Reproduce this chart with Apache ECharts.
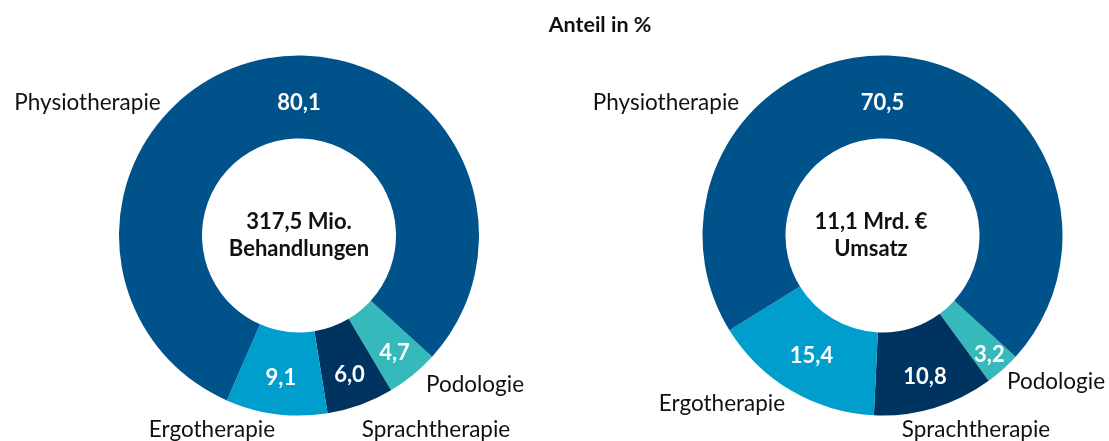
<!DOCTYPE html>
<html>
<head>
<meta charset="utf-8">
<script src="https://cdn.jsdelivr.net/npm/echarts@6/dist/echarts.min.js"></script>
<style>
html,body{margin:0;padding:0;background:#fff;}
#chart{width:1109px;height:441px;}
</style>
</head>
<body>
<div id="chart"></div>
<script>
// ---- data ----
const categories = ['Podologie', 'Sprachtherapie', 'Ergotherapie', 'Physiotherapie'];
const behandlungen = [4.7, 6.0, 9.1, 80.1];
const umsatz = [3.2, 10.8, 15.4, 70.5];
const chartTitle = 'Anteil in %';
const centerLeft = ['317,5 Mio.', 'Behandlungen'];
const centerRight = ['11,1 Mrd. €', 'Umsatz'];

// ---- layout (not data) ----
const FONT = 'Lato, "Open Sans", sans-serif';
const colors = ['#36b9bb', '#003460', '#009ecd', '#00528a'];
const pies = [
  { cx: 299, cy: 235.5, startCW: 132.3,
    valR: [151, 148, 144, 132.5], valAngle: [null, null, null, 0],
    nameOff: [[176, 149.5], [137, 194.5], [-87, 194.5], [-211.5, -132.5]],
    textX: 299 },
  { cx: 882.5, cy: 235.5, startCW: 132.3,
    valR: [160, 148, 140, 132.5], valAngle: [null, null, null, 0],
    nameOff: [[173.5, 146.5], [93.5, 194.5], [-160.5, 168.5], [-216.5, -132.5]],
    textX: 871 }
];
const RIN = 97, ROUT = 180;

function fmt(v) { return v.toFixed(1).replace('.', ','); }

function midAngles(values, start) {
  const sum = values.reduce((a, b) => a + b, 0);
  let cum = 0;
  return values.map(v => { const a = start + 360 * (cum + v / 2) / sum; cum += v; return a; });
}

const datasets = [behandlungen, umsatz];
const series = [];
datasets.forEach((vals, p) => {
  const L = pies[p];
  const mids = midAngles(vals, L.startCW);
  const data = vals.map((v, i) => ({ name: categories[i], value: v, itemStyle: { color: colors[i] } }));
  // slices with value labels
  series.push({
    type: 'pie', center: [L.cx, L.cy], radius: [RIN, ROUT],
    startAngle: 90 - L.startCW, clockwise: true, avoidLabelOverlap: false,
    silent: true, animation: false,
    itemStyle: { borderWidth: 0 },
    label: { show: true, position: 'inside', formatter: prm => fmt(prm.value),
      color: '#fff', fontFamily: FONT, fontWeight: 'bold', fontSize: 22 },
    labelLine: { show: false },
    labelLayout: prm => {
      const i = prm.dataIndex;
      const a = (L.valAngle[i] != null ? L.valAngle[i] : mids[i]) * Math.PI / 180;
      const r = L.valR[i];
      return { x: L.cx + r * Math.sin(a), y: L.cy - r * Math.cos(a), align: 'center', verticalAlign: 'middle' };
    },
    data: data
  });
  // transparent copy carrying category labels
  series.push({
    type: 'pie', center: [L.cx, L.cy], radius: [RIN, ROUT],
    startAngle: 90 - L.startCW, clockwise: true, avoidLabelOverlap: false,
    silent: true, animation: false, z: 1,
    itemStyle: { color: 'rgba(0,0,0,0)' },
    label: { show: true, position: 'outside', formatter: '{b}',
      color: '#111', fontFamily: FONT, fontSize: 22.5 },
    labelLine: { show: false },
    labelLayout: prm => {
      const o = L.nameOff[prm.dataIndex];
      return { x: L.cx + o[0], y: L.cy + o[1], align: 'center', verticalAlign: 'middle' };
    },
    data: vals.map((v, i) => ({ name: categories[i], value: v }))
  });
});

const centerTexts = [centerLeft, centerRight];
const graphics = centerTexts.map((lines, p) => ({
  type: 'text', x: pies[p].textX, y: pies[p].cy,
  style: { text: lines.join('\n'), fontFamily: FONT, fontWeight: 'bold', fontSize: 22,
    lineHeight: 27, fill: '#111', align: 'center', verticalAlign: 'middle' },
  z: 10
}));
graphics.push({
  type: 'text', x: 600, y: 25,
  style: { text: chartTitle, fontFamily: FONT, fontWeight: 'bold', fontSize: 21.5,
    fill: '#111', align: 'center', verticalAlign: 'middle' },
  z: 10
});

const chart = echarts.init(document.getElementById('chart'), null, { renderer: 'canvas' });
chart.setOption({
  backgroundColor: '#fff',
  animation: false,
  graphic: graphics,
  series: series
});
</script>
</body>
</html>
